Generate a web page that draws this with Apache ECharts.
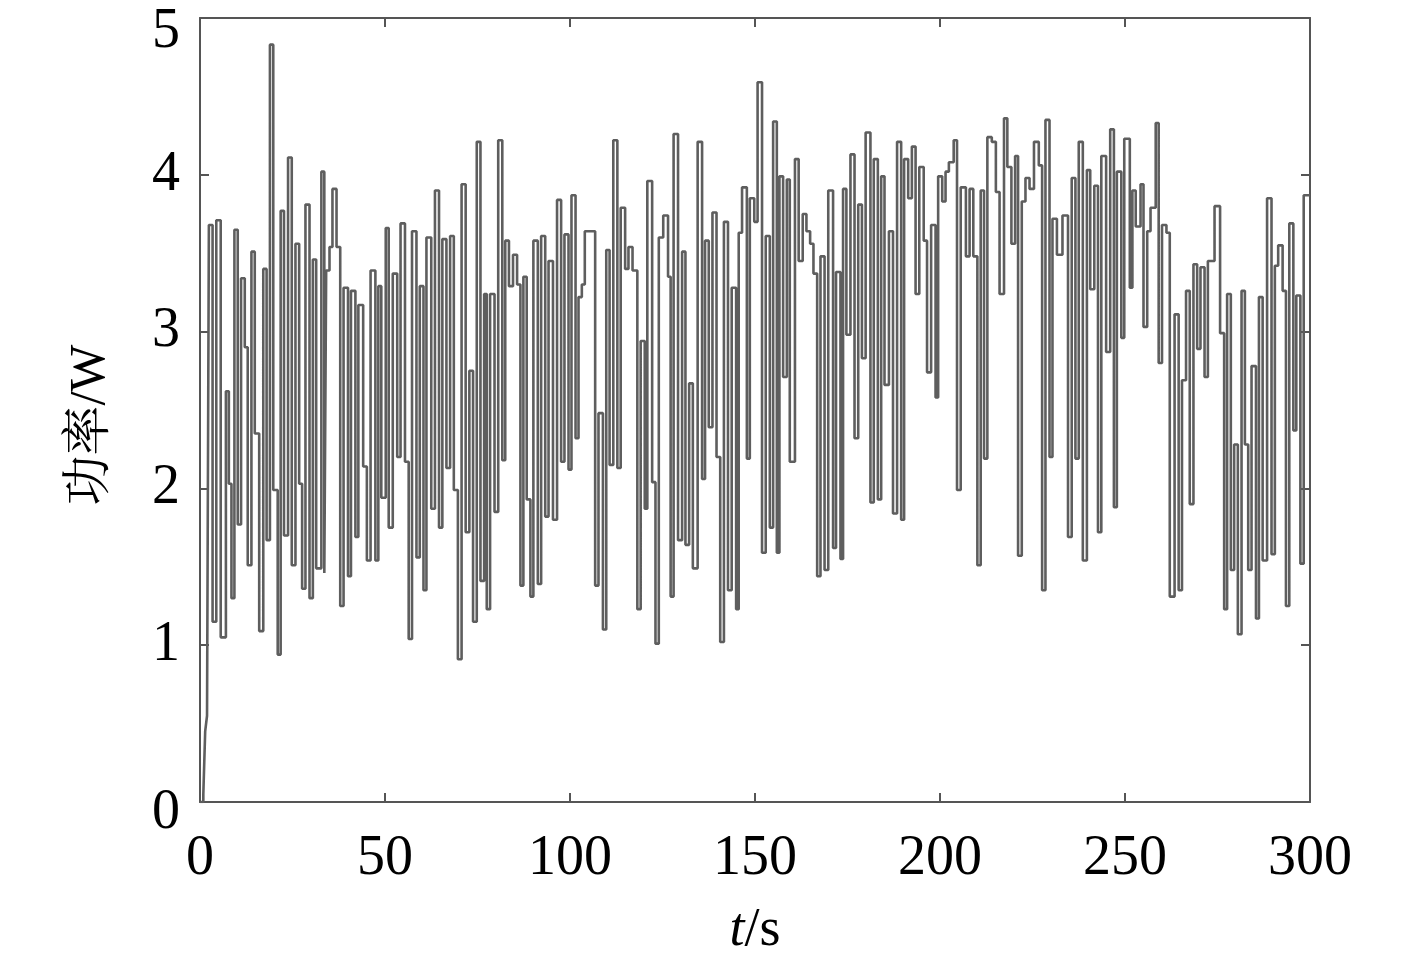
<!DOCTYPE html>
<html>
<head>
<meta charset="utf-8">
<title>功率</title>
<script src="https://cdn.jsdelivr.net/npm/echarts@6/dist/echarts.min.js"></script>
<style>
  html, body { margin: 0; padding: 0; background: #fff; }
  #powerChart { width: 1417px; height: 961px; }
</style>
</head>
<body>
<div id="powerChart"></div>
<script>
// sample times (s) and power values (W)
var timeS = [
  0.0, 0.9, 1.4, 1.9, 2.4, 3.4, 4.4, 5.6, 7.0, 7.8, 8.5, 9.3, 10.2, 11.1, 12.1, 12.9, 13.9, 14.8, 16.0, 17.1,
  18.0, 18.9, 19.8, 21.0, 21.8, 22.7, 23.8, 24.8,
  25.8, 26.8, 27.6, 28.5, 29.6, 30.5, 31.4, 32.8, 33.6, 34.1, 35.0, 35.8, 36.9, 37.9, 38.8, 40.0, 40.8, 42.0,
  42.8, 44.1, 45.1, 46.1, 47.4, 48.2, 49.0, 50.2, 51.0,
  52.1, 53.3, 54.2, 55.4, 56.4, 57.3, 58.5, 59.4, 60.4, 61.2, 62.5, 63.5, 64.6, 65.5, 66.6, 67.6, 68.6, 69.7,
  70.7, 71.8, 72.8, 73.8, 74.8, 75.8,
  76.8, 77.5, 78.4, 79.6, 80.6, 81.7, 82.5, 83.5, 84.6, 85.7, 86.6, 87.4, 88.3, 89.3, 90.1, 91.3, 92.2, 93.3,
  94.2, 95.4, 96.5, 97.6, 98.5, 99.6, 100.4, 101.5,
  102.3, 103.2, 104.0, 106.8, 107.7, 108.9, 109.8, 110.7, 111.7, 112.8, 113.7, 114.9, 115.8, 116.9, 118.2,
  119.1, 120.2, 120.9, 122.2, 123.1, 124.0, 125.2, 126.5, 127.2, 128.0,
  129.2, 130.3, 131.2, 132.2, 133.2, 134.5, 135.7, 136.5, 137.5, 138.5, 139.6, 140.6, 141.6, 142.7, 143.7,
  144.9, 145.6, 146.5, 147.8, 148.6, 149.8, 150.7, 151.9, 152.9, 154.0,
  154.9, 155.9, 156.6, 157.6, 158.6, 159.4, 160.8, 161.8, 162.9, 163.9, 164.9, 165.8, 166.8, 167.7, 168.8,
  169.8, 171.1, 171.9, 173.1, 173.8, 174.7, 175.8, 176.9, 177.9, 178.9,
  179.9, 181.2, 182.1, 183.2, 184.1, 185.0, 186.2, 187.3, 188.4, 189.5, 190.3, 191.4, 192.4, 193.4, 194.4,
  195.6, 196.5, 197.6, 198.8, 199.5, 200.6, 201.5, 202.4, 203.7, 204.6,
  205.6, 207.0, 208.0, 209.0, 210.1, 211.0, 211.9, 212.8, 214.0, 215.1, 216.1, 217.3, 218.2, 219.3, 220.3,
  221.1, 222.1, 223.1, 224.2, 225.4, 226.7, 227.6, 228.5, 229.6,
  230.4, 231.6, 233.1, 234.6, 235.6, 236.6, 237.5, 238.6, 239.7, 240.6, 241.7, 242.7, 243.6, 244.9, 246.0,
  247.0, 247.8, 249.0, 249.8, 251.3, 252.0, 252.9, 254.2, 255.0,
  256.0, 256.9, 258.3, 259.1, 260.0, 261.2, 262.1, 263.4, 264.5, 265.4, 266.5, 267.5, 268.5, 269.5, 270.4,
  271.5, 272.4, 274.2, 275.7, 276.8, 277.6, 278.6, 279.5, 280.5, 281.5,
  282.4, 283.3, 284.2, 285.4, 286.2, 287.2, 288.4, 289.6, 290.5, 291.4, 292.6, 293.5, 294.4, 295.5, 296.3,
  297.4, 298.3, 300.0
];
var powerW = [
  0, 0.05, 0.45, 0.55, 3.68, 1.15, 3.71, 1.05, 2.62, 2.03, 1.30, 3.65, 1.77, 3.34, 2.90, 1.51, 3.51, 2.35, 1.09, 3.40,
  1.67, 4.83, 1.99, 0.94, 3.77, 1.70, 4.11, 1.51,
  3.56, 2.03, 1.36, 3.81, 1.30, 3.46, 1.49, 4.02, 1.46, 3.39, 3.54, 3.91, 3.54, 1.25, 3.28, 1.44, 3.26, 1.69,
  3.17, 2.14, 1.54, 3.39, 1.54, 3.29, 1.94, 3.66, 1.75,
  3.37, 2.20, 3.69, 2.17, 1.04, 3.64, 1.56, 3.29, 1.35, 3.60, 1.87, 3.90, 1.75, 3.59, 2.13, 3.61, 1.99, 0.91,
  3.94, 1.72, 2.75, 1.15, 4.21, 1.41,
  3.24, 1.23, 3.24, 1.85, 4.22, 2.18, 3.58, 3.29, 3.49, 3.30, 1.38, 3.35, 1.93, 1.31, 3.58, 1.39, 3.61, 1.82,
  3.45, 1.80, 3.84, 2.17, 3.62, 2.12, 3.87, 2.32,
  3.22, 3.30, 3.64, 1.38, 2.48, 1.10, 3.52, 2.15, 4.22, 2.13, 3.79, 3.40, 3.54, 3.39, 1.23,
  2.94, 1.87, 3.96, 2.04, 1.01, 3.60, 3.74, 3.35, 1.31, 4.26,
  1.67, 3.51, 1.64, 2.67, 1.49, 4.21, 2.06, 3.58, 2.39, 3.76, 2.20, 1.02, 3.70, 1.35, 3.28,
  1.23, 3.63, 3.92, 2.19, 3.85, 3.70, 4.59, 1.59, 3.61, 1.75,
  4.34, 1.59, 3.99, 2.71, 3.97, 2.17, 4.10, 3.45, 3.75, 3.64, 3.56, 3.37, 1.44, 3.48, 1.48,
  3.90, 1.62, 3.38, 1.55, 3.91, 2.98, 4.13, 2.32, 3.81, 2.83,
  4.27, 1.91, 4.10, 1.93, 3.99, 2.66, 3.64, 1.84, 4.21, 1.80, 4.10, 3.85, 4.18, 3.24, 4.05,
  3.58, 2.74, 3.68, 2.58, 3.99, 3.83, 4.02, 4.08, 4.22, 1.99,
  3.92, 3.48, 3.91, 3.48, 1.51, 3.90, 2.19, 4.24, 4.21, 3.89, 3.24, 4.36, 4.05, 3.56, 4.12,
  1.57, 3.83, 3.98, 3.91, 4.21, 4.06, 1.35, 4.35, 2.20,
  3.72, 3.49, 3.74, 1.69, 3.98, 2.19, 4.21, 1.54, 4.03, 3.27, 3.93, 1.72, 4.12, 2.87, 4.29,
  1.88, 4.02, 2.96, 4.23, 3.28, 3.90, 3.67, 3.94, 3.03,
  3.64, 3.79, 4.33, 2.80, 3.68, 3.63, 1.31, 3.11, 1.35, 2.69, 3.26, 1.90, 3.43, 2.89, 3.41,
  2.71, 3.45, 3.80, 2.99, 1.23, 3.24, 1.48, 2.28, 1.07, 3.26,
  2.28, 1.48, 2.78, 1.17, 3.22, 1.54, 3.85, 1.58, 3.42, 3.55, 3.26, 1.25, 3.69, 2.37, 3.23,
  1.52, 3.87, 3.87
];
var xTicks = [0, 50, 100, 150, 200, 250, 300];
var yTicks = [0, 1, 2, 3, 4, 5];

var serif = '"Liberation Serif", "Noto Serif CJK SC", "Noto Sans CJK SC", serif';
var axisColor = '#555';

var chart = echarts.init(document.getElementById('powerChart'));

var seriesData = timeS.map(function (t, i) { return [t, powerW[i]]; });

function xAxisOf(pos, showLabel) {
  return {
    type: 'value',
    position: pos,
    min: xTicks[0],
    max: xTicks[xTicks.length - 1],
    interval: xTicks[1] - xTicks[0],
    axisLine: { show: true, onZero: false, lineStyle: { color: axisColor, width: 2 } },
    axisTick: { show: true, inside: true, length: 9, lineStyle: { color: axisColor, width: 2 } },
    axisLabel: { show: showLabel, margin: 29, color: '#000', fontFamily: serif, fontSize: 56 },
    splitLine: { show: false }
  };
}
function yAxisOf(pos, showLabel) {
  return {
    type: 'value',
    position: pos,
    min: yTicks[0],
    max: yTicks[yTicks.length - 1],
    interval: yTicks[1] - yTicks[0],
    axisLine: { show: true, onZero: false, lineStyle: { color: axisColor, width: 2 } },
    axisTick: { show: true, inside: true, length: 9, lineStyle: { color: axisColor, width: 2 } },
    axisLabel: {
      show: showLabel, margin: 20, color: '#000', fontFamily: serif, fontSize: 56,
      // the end labels sit a little below their ticks in the original
      formatter: function (v) {
        if (v === yTicks[yTicks.length - 1]) return '{top|' + v + '}';
        if (v === yTicks[0]) return '{bot|' + v + '}';
        return String(v);
      },
      rich: {
        top: { fontFamily: serif, fontSize: 56, color: '#000', padding: [28, 0, 0, 0] },
        bot: { fontFamily: serif, fontSize: 56, color: '#000', padding: [22, 0, 0, 0] }
      }
    },
    splitLine: { show: false }
  };
}

var xMain = xAxisOf('bottom', true);
xMain.name = '{i|t}/s';
xMain.nameLocation = 'middle';
xMain.nameGap = 102;
xMain.nameTextStyle = {
  color: '#000', fontFamily: serif, fontSize: 54,
  rich: { i: { fontStyle: 'italic', fontFamily: serif, fontSize: 54, color: '#000' } }
};

var yMain = yAxisOf('left', true);
yMain.name = '功率/W';
yMain.nameLocation = 'middle';
yMain.nameGap = 84;
yMain.nameTextStyle = { color: '#000', fontFamily: serif, fontSize: 50, padding: [0, 30, 0, 0] };

var option = {
  backgroundColor: '#ffffff',
  animation: false,
  grid: { left: 200, right: 107, top: 18, bottom: 159, containLabel: false, outerBoundsMode: 'none' },
  xAxis: [xMain, xAxisOf('top', false)],
  yAxis: [yMain, yAxisOf('right', false)],
  series: [
    {
      type: 'line',
      xAxisIndex: 0,
      yAxisIndex: 0,
      step: 'end',
      showSymbol: false,
      data: seriesData,
      lineStyle: { color: '#5e5e5e', width: 2.6 }
    }
  ]
};
chart.setOption(option);
</script>
</body>
</html>
